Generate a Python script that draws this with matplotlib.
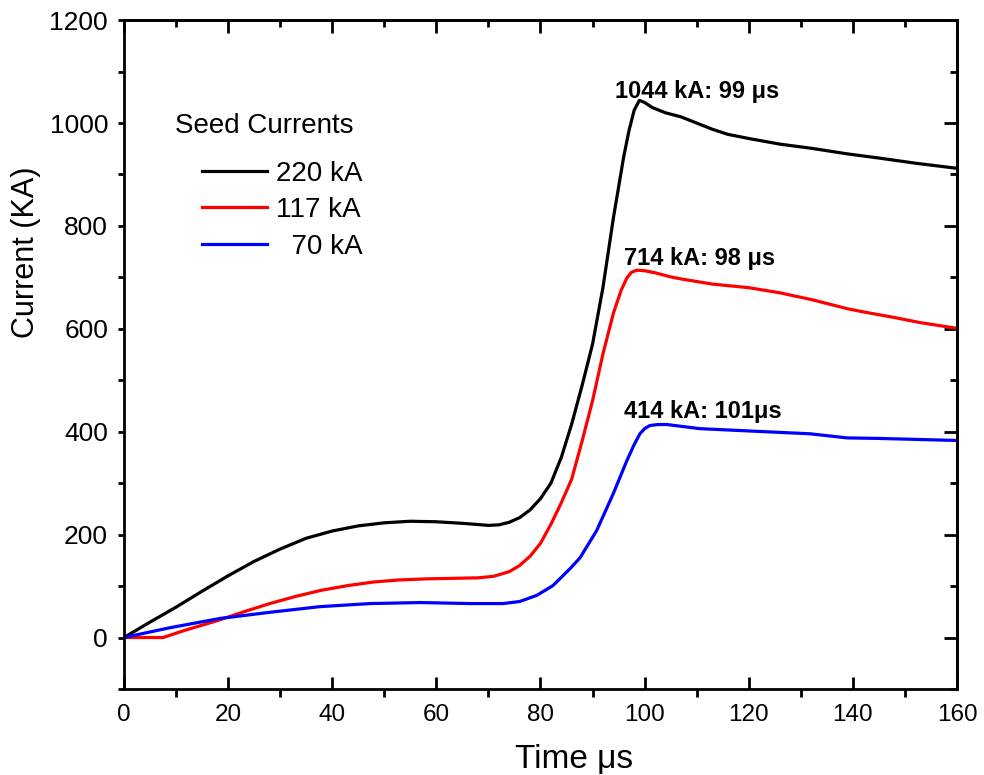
import matplotlib
matplotlib.use("Agg")
from matplotlib import pyplot as plt
from matplotlib.ticker import MultipleLocator

plt.rcParams["font.family"] = ["Liberation Sans", "DejaVu Sans"]

# seed current 220 kA
t_220 = [0, 5, 10, 15, 20, 25, 30, 35, 40, 45, 50, 55, 60, 65, 70, 72, 74, 76,
         78, 80, 82, 84, 86, 88, 90, 92, 94, 96, 97, 98, 99, 100, 101.5, 104,
         107, 110, 113, 116, 120, 126, 132, 139, 145, 152, 160]
i_220 = [0, 30, 59, 90, 120, 148, 172, 193, 207, 217, 223, 226, 225, 222, 218,
         219, 224, 233, 248, 270, 300, 350, 415, 490, 570, 680, 815, 935, 985,
         1025, 1044, 1040, 1030, 1020, 1012, 1000, 988, 978, 970, 959, 951, 940,
         932, 922, 912]

# seed current 117 kA
t_117 = [0, 7.5, 12, 18, 23, 28, 33, 38, 43, 48, 53, 58, 63, 68, 71, 74, 76, 78,
         80, 82, 84, 86, 88, 90, 92, 94, 95.5, 96.6, 97.5, 98.5, 100, 102, 105,
         107, 113, 120, 126, 132, 139, 142, 148, 153, 160]
i_117 = [0, 0, 15, 33, 50, 66, 80, 92, 101, 108, 112, 114, 115, 116, 119, 128,
         140, 158, 183, 220, 262, 308, 382, 460, 551, 630, 675, 699, 710, 714,
         713, 709, 701, 697, 687, 680, 670, 657, 639, 633, 622, 612, 601]

# seed current 70 kA
t_70 = [0, 8.8, 18.4, 28, 37.6, 47.3, 56.9, 66.5, 72.8, 76, 79.3, 82.4, 85.7,
        87.6, 90.8, 94, 96.6, 98, 99.1, 100, 101, 102.5, 104.3, 110.6, 119,
        131.8, 138.9, 145, 160]
i_70 = [0, 19, 37, 49, 60, 66, 68, 66, 66, 70, 82, 101, 134, 155, 208, 280, 344,
        375, 396, 406, 412, 414, 414, 406, 402, 396, 388, 387, 383]

series = [
    (t_220, i_220, "black", "220 kA"),
    (t_117, i_117, "red", "117 kA"),
    (t_70, i_70, "blue", "  70 kA"),
]

fig = plt.figure(figsize=(9.84, 7.75), dpi=100)
ax = fig.add_axes([0.126, 0.111, 0.8465, 0.863])

for t, i, c, lab in series:
    ax.plot(t, i, color=c, lw=2.3, label=lab, solid_joinstyle="round")

ax.set_xlim(0, 160)
ax.set_ylim(-100, 1200)
ax.xaxis.set_major_locator(MultipleLocator(20))
ax.xaxis.set_minor_locator(MultipleLocator(10))
ax.yaxis.set_major_locator(MultipleLocator(200))
ax.yaxis.set_minor_locator(MultipleLocator(100))

for sp in ax.spines.values():
    sp.set_linewidth(2)

ax.tick_params(axis="x", which="major", direction="in", length=9, width=2,
               top=False, labelsize=17.5, pad=11)
ax.tick_params(axis="x", which="minor", direction="out", length=6, width=2, top=False)
ax.tick_params(axis="y", which="both", direction="out", length=4.5, width=2,
               right=False, labelsize=19, pad=7)

# top and right ticks point inwards
secx = ax.secondary_xaxis("top")
secx.xaxis.set_major_locator(MultipleLocator(20))
secx.xaxis.set_minor_locator(MultipleLocator(10))
secx.tick_params(which="major", direction="in", length=9.5, width=2, labeltop=False)
secx.tick_params(which="minor", direction="in", length=5, width=2)
secx.spines["top"].set_linewidth(2)

secy = ax.secondary_yaxis("right")
secy.yaxis.set_major_locator(MultipleLocator(200))
secy.yaxis.set_minor_locator(MultipleLocator(100))
secy.tick_params(which="major", direction="in", length=9.5, width=2, labelright=False)
secy.tick_params(which="minor", direction="in", length=5, width=2)
secy.spines["right"].set_linewidth(2)

ax.set_xlabel("Time μs", fontsize=24)
ax.xaxis.set_label_coords(0.54, -0.082)
ax.set_ylabel("Current (KA)", fontsize=22)
ax.yaxis.set_label_coords(-0.10, 0.653)

ax.text(0.0612, 0.831, "Seed Currents", transform=ax.transAxes, fontsize=20,
        va="baseline", ha="left")
ax.legend(loc="upper left", bbox_to_anchor=(0.0936, 0.79), frameon=False,
          fontsize=20, handlelength=2.35, handletextpad=0.3, labelspacing=0.38,
          borderpad=0, borderaxespad=0)

ax.text(110, 1048, "1044 kA: 99 μs", fontsize=17, fontweight="bold",
        ha="center", va="baseline")
ax.text(110.6, 724, "714 kA: 98 μs", fontsize=17, fontweight="bold",
        ha="center", va="baseline")
ax.text(111.1, 427, "414 kA: 101μs", fontsize=17, fontweight="bold",
        ha="center", va="baseline")

fig.savefig("out.png", dpi=100)
